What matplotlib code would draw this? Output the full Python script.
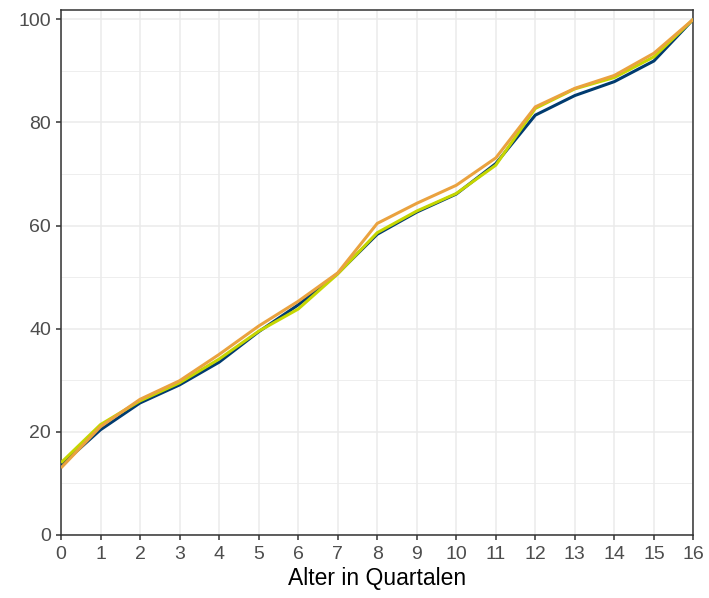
import matplotlib
matplotlib.use('Agg')
import matplotlib.pyplot as plt
from matplotlib.ticker import MultipleLocator

plt.rcParams['font.family'] = ['Liberation Sans', 'DejaVu Sans']

quartale = list(range(17))
serie_blau = [13.5, 20.4, 25.6, 29.1, 33.5, 39.4, 44.6, 50.7, 58.3, 62.6, 66.1, 72.0, 81.4, 85.2, 87.9, 91.9, 100.0]
serie_gruen = [14.0, 21.4, 26.0, 29.5, 34.1, 39.5, 43.8, 50.6, 58.6, 62.8, 66.2, 71.7, 82.7, 86.5, 88.7, 92.7, 100.0]
serie_orange = [13.0, 21.0, 26.3, 29.9, 35.0, 40.5, 45.3, 50.8, 60.4, 64.3, 67.8, 73.1, 83.0, 86.6, 89.1, 93.4, 100.0]

farben = ['#003b6f', '#c5d600', '#eaa23f']

fig = plt.figure(figsize=(7.09, 5.98), dpi=100)
ax = fig.add_axes([0.086, 0.1054, 0.892, 0.878])

for werte, farbe in zip([serie_blau, serie_gruen, serie_orange], farben):
    ax.plot(quartale, werte, color=farbe, linewidth=2.2, solid_capstyle='butt', zorder=3)

ax.set_xlim(0, 16)
ax.set_ylim(0, 101.8)
ax.set_xticks(quartale)
ax.yaxis.set_major_locator(MultipleLocator(20))
ax.yaxis.set_minor_locator(MultipleLocator(10))

ax.grid(which='major', color='#ebebeb', linewidth=1.1, zorder=0)
ax.grid(which='minor', axis='y', color='#ebebeb', linewidth=0.6, zorder=0)
ax.set_axisbelow(True)

for sp in ax.spines.values():
    sp.set_color('#333333')
    sp.set_linewidth(1.1)

ax.tick_params(which='major', direction='out', length=3.6, width=1.1, color='#333333',
               labelcolor='#4d4d4d', labelsize=14)
ax.tick_params(axis='x', pad=4)
ax.tick_params(axis='y', pad=3.5)
ax.tick_params(which='minor', length=0)

ax.set_xlabel('Alter in Quartalen', fontsize=16.5, color='black', labelpad=3)

fig.savefig('out.png', dpi=100)
